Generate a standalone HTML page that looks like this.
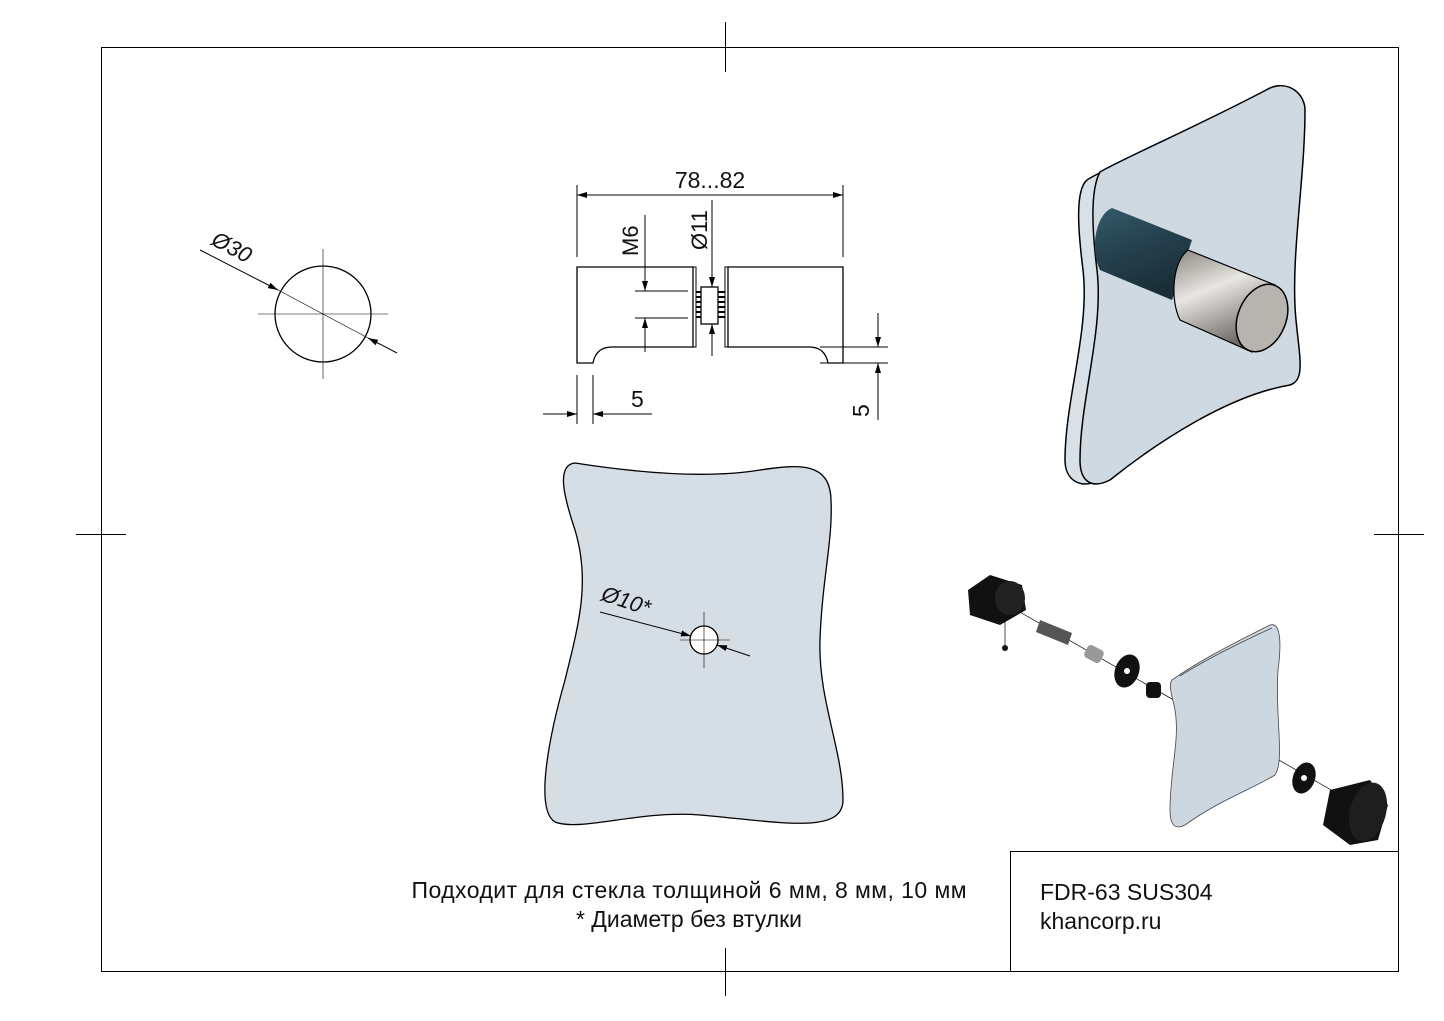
<!DOCTYPE html>
<html><head><meta charset="utf-8"><style>
body{margin:0;background:#fff}
svg{display:block}
text{font-family:"Liberation Sans",sans-serif;fill:#111}
</style></head><body>
<svg width="1444" height="1021" viewBox="0 0 1444 1021" xmlns="http://www.w3.org/2000/svg">
<defs>
<marker id="a" viewBox="0 0 10 6" refX="10" refY="3" markerWidth="14" markerHeight="6" markerUnits="userSpaceOnUse" orient="auto-start-reverse"><path d="M0,0L10,3L0,6z" fill="#000"/></marker>
<linearGradient id="steel" x1="0" y1="0" x2="0.4" y2="1"><stop offset="0" stop-color="#8a8680"/><stop offset=".45" stop-color="#e8e6e2"/><stop offset="1" stop-color="#6d6a66"/></linearGradient>
<linearGradient id="teal" x1="0" y1="0" x2="0.4" y2="1"><stop offset="0" stop-color="#355a6a"/><stop offset=".5" stop-color="#24414e"/><stop offset="1" stop-color="#1a2e38"/></linearGradient>
</defs>
<g stroke="#000" stroke-width="1" fill="none">
<rect x="101.5" y="47.5" width="1297" height="924"/>
<line x1="725.5" y1="22" x2="725.5" y2="72"/><line x1="725.5" y1="948" x2="725.5" y2="996"/>
<line x1="76" y1="534.5" x2="126" y2="534.5"/><line x1="1374" y1="534.5" x2="1424" y2="534.5"/>
<rect x="1010.5" y="851.5" width="388" height="120"/>
<!-- circle -->
<circle cx="323" cy="314" r="48" stroke-width="1.3"/>
<line x1="258" y1="314" x2="388" y2="314" stroke-width=".6"/><line x1="323" y1="249" x2="323" y2="379" stroke-width=".6"/>
<line x1="200" y1="250" x2="278" y2="290" marker-end="url(#a)"/>
<line x1="397" y1="353" x2="368" y2="338" marker-end="url(#a)"/>
<line x1="278" y1="290" x2="368" y2="338" stroke-width=".6"/>
<!-- side view -->
<path d="M693,347H612Q596,347 593,363H577V267H693Z" stroke-width="1.3"/>
<path d="M728,347H809Q825,347 828,363H843V267H728Z" stroke-width="1.3"/>
<rect x="693" y="267" width="3" height="80"/>
<rect x="725" y="267" width="3" height="80"/>
<rect x="701" y="287" width="17" height="37" stroke-width="1.3"/>
<path d="M696,292h5M696,297h5M696,302h5M696,307h5M696,312h5M696,317h5M718,292h7M718,297h7M718,302h7M718,307h7M718,312h7M718,317h7" stroke-width="2"/>
<line x1="577" y1="185" x2="577" y2="257"/><line x1="843" y1="185" x2="843" y2="257"/>
<line x1="577" y1="195" x2="843" y2="195" marker-start="url(#a)" marker-end="url(#a)"/>
<line x1="635" y1="291" x2="688" y2="291"/><line x1="635" y1="318" x2="688" y2="318"/>
<line x1="645" y1="215" x2="645" y2="291" marker-end="url(#a)"/>
<line x1="645" y1="352" x2="645" y2="318" marker-end="url(#a)"/>
<line x1="712" y1="200" x2="712" y2="287" marker-end="url(#a)"/>
<line x1="712" y1="356" x2="712" y2="324" marker-end="url(#a)"/>
<line x1="577" y1="375" x2="577" y2="424"/><line x1="593" y1="375" x2="593" y2="424"/>
<line x1="543" y1="414" x2="577" y2="414" marker-end="url(#a)"/>
<line x1="652" y1="414" x2="593" y2="414" marker-end="url(#a)"/>
<line x1="820" y1="347" x2="888" y2="347"/><line x1="820" y1="363" x2="888" y2="363"/>
<line x1="878" y1="313" x2="878" y2="347" marker-end="url(#a)"/>
<line x1="878" y1="420" x2="878" y2="363" marker-end="url(#a)"/>
<!-- front glass -->
<path d="M575,463C620,470 700,480 760,470C800,464 830,462 831,500C833,540 822,580 820,640C818,700 843,750 843,800C843,835 780,822 700,815C640,810 580,832 555,822C535,810 548,740 565,680C580,620 590,580 575,530C565,500 555,465 575,463Z" fill="#d5dde5" stroke-width="1.3"/>
<circle cx="704" cy="640" r="14" fill="#fff" stroke-width="1.3"/>
<line x1="680" y1="640" x2="730" y2="640" stroke-width=".6"/><line x1="704" y1="612" x2="704" y2="668" stroke-width=".6"/>
<line x1="600" y1="612" x2="691" y2="636" marker-end="url(#a)"/>
<line x1="750" y1="656" x2="717" y2="645" marker-end="url(#a)"/>
<!-- 3D knob -->
<path d="M1087,180C1110,165 1200,130 1270,88C1290,80 1296,95 1296,110C1296,180 1280,260 1286,320C1290,360 1300,380 1280,385C1220,395 1150,440 1100,480C1080,490 1065,480 1065,460C1065,400 1090,330 1083,270C1078,230 1075,190 1087,180Z" fill="#d8e0e8" stroke-width="1.5"/>
<path d="M1100,172C1120,160 1200,125 1270,88C1290,80 1305,95 1305,110C1305,180 1290,260 1296,320C1300,360 1305,380 1290,385C1230,395 1160,440 1110,480C1090,490 1080,480 1080,460C1080,400 1104,330 1097,270C1092,230 1090,190 1100,172Z" fill="#cfd9e2" stroke-width="1.5"/>
<path d="M1112,208L1192,240L1172,300L1100,270C1090,250 1095,215 1112,208Z" fill="url(#teal)" stroke="none"/>
<path d="M1188,250L1275,285L1252,352L1180,320C1170,300 1172,262 1188,250Z" fill="url(#steel)" stroke-width="1.2"/>
<ellipse cx="1262" cy="318" rx="24" ry="35" transform="rotate(22 1262 318)" fill="#b7b3ae" stroke-width="1.5"/>
</g>
<!-- exploded view -->
<g stroke="#000" stroke-width=".7">
<line x1="990" y1="595" x2="1375" y2="815"/>
<line x1="1005" y1="620" x2="1005" y2="645"/>
</g>
<g stroke="none">
<path d="M968,590L990,575L1022,585L1026,610L1000,625L970,615Z" fill="#111"/>
<ellipse cx="1010" cy="598" rx="15" ry="17" fill="#222"/>
<circle cx="1005" cy="648" r="3" fill="#111"/>
<path d="M1040,620L1072,633L1068,645L1036,632Z" fill="#555"/>
<rect x="1085" y="647" width="18" height="14" rx="4" fill="#999" transform="rotate(28 1094 654)"/>
<ellipse cx="1127" cy="671" rx="12" ry="17" fill="#111" transform="rotate(20 1127 671)"/><circle cx="1127" cy="671" r="3" fill="#fff"/>
<rect x="1146" y="682" width="15" height="16" rx="4" fill="#111"/>
<path d="M1172,680C1200,660 1240,640 1270,625C1280,622 1282,640 1278,670C1275,720 1285,760 1275,775C1250,790 1220,800 1185,825C1175,830 1170,825 1170,810C1170,770 1180,740 1175,710C1172,695 1168,685 1172,680Z" fill="#ccd7e0" stroke="#444" stroke-width=".8"/>
<path d="M1180,676C1205,660 1245,640 1272,628" stroke="#444" stroke-width=".8" fill="none"/>
<ellipse cx="1304" cy="778" rx="11" ry="16" fill="#111" transform="rotate(20 1304 778)"/><circle cx="1304" cy="778" r="3" fill="#fff"/>
<path d="M1330,790L1370,780L1388,805L1378,840L1350,845L1323,825Z" fill="#111"/>
<ellipse cx="1368" cy="812" rx="18" ry="30" fill="#1e1e1e" transform="rotate(15 1368 812)"/>
</g>
<!-- text -->
<text x="710" y="188" font-size="23" text-anchor="middle">78...82</text>
<text transform="translate(638,256) rotate(-90)" font-size="22">M6</text>
<text transform="translate(707,250) rotate(-90)" font-size="22">Ø11</text>
<text x="631" y="407" font-size="23">5</text>
<text transform="translate(869,417) rotate(-90)" font-size="23">5</text>
<text transform="translate(210,244) rotate(28)" font-size="22" font-style="italic">Ø30</text>
<text transform="translate(600,600) rotate(18)" font-size="22" font-style="italic">Ø10*</text>
<text x="689" y="898" font-size="23" text-anchor="middle" textLength="555">Подходит для стекла толщиной 6 мм, 8 мм, 10 мм</text>
<text x="689" y="927" font-size="23" text-anchor="middle">* Диаметр без втулки</text>
<text x="1040" y="900" font-size="23">FDR-63 SUS304</text>
<text x="1040" y="929" font-size="23">khancorp.ru</text>
</svg>
</body></html>
